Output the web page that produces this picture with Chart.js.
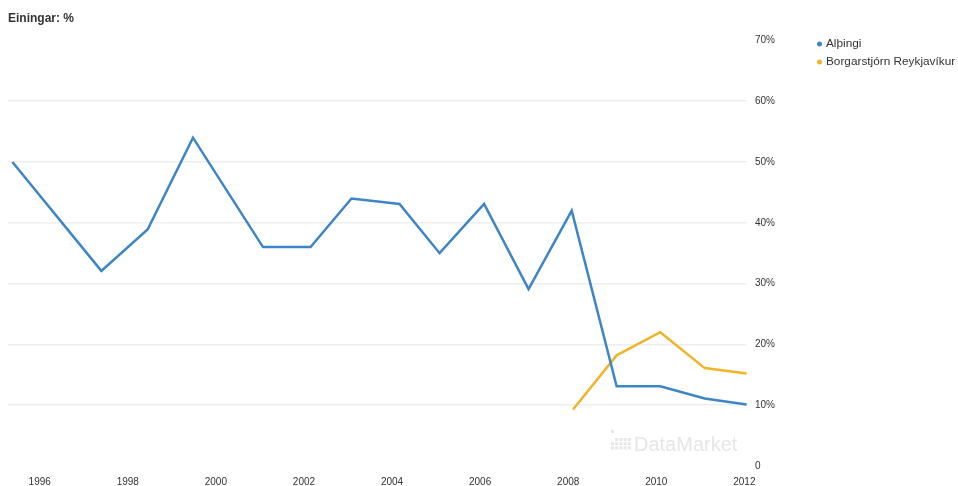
<!DOCTYPE html>
<html>
<head>
<meta charset="utf-8">
<script src="https://cdn.jsdelivr.net/npm/chart.js@4.4.1/dist/chart.umd.min.js"></script>
<style>
    html, body { margin: 0; padding: 0; background: #fff; }
    #wrap { width: 958px; height: 486px; }
</style>
</head>
<body>
<div id="wrap"><canvas id="chart" width="958" height="486"></canvas></div>
<script>
// values (x = decimal year)
const althingiYears = [1995.38, 1997.40, 1998.45, 1999.48, 2001.07, 2002.15, 2003.08, 2004.17, 2005.08, 2006.09, 2007.10, 2008.08, 2009.10, 2010.09, 2011.10, 2012.05];
const althingiValues = [50, 32.1, 38.9, 54, 36, 36, 44, 43.1, 35, 43.1, 29.1, 42, 13.1, 13.1, 11.1, 10.1];
const borgarYears = [2008.11, 2009.10, 2010.09, 2011.10, 2012.05];
const borgarValues = [9.3, 18.2, 22, 16.1, 15.2];
const xTicks = [1996, 1998, 2000, 2002, 2004, 2006, 2008, 2010, 2012];
const yTicks = [0, 10, 20, 30, 40, 50, 60, 70];
const seriesNames = ['Alþingi', 'Borgarstjórn Reykjavíkur'];
const seriesColors = ['#3d85c6', '#f0b429'];

const fontFamily = "'Liberation Sans', Arial, sans-serif";

function toPoints(xs, ys) {
    return xs.map((x, i) => ({ x: x, y: ys[i] }));
}

// legend drawn on the right side, next to the value axis
const sideLegend = {
    id: 'sideLegend',
    afterDraw(chart) {
        const ctx = chart.ctx;
        ctx.save();
        ctx.font = '11.8px ' + fontFamily;
        ctx.textBaseline = 'middle';
        chart.data.datasets.forEach((ds, i) => {
            const y = 44 + i * 18;
            ctx.fillStyle = ds.borderColor;
            ctx.beginPath();
            ctx.arc(819.5, y, 2.5, 0, Math.PI * 2);
            ctx.fill();
            ctx.fillStyle = '#333';
            ctx.fillText(ds.label, 826, y);
        });
        ctx.restore();
    }
};

// faint DataMarket watermark
const watermark = {
    id: 'watermark',
    beforeDatasetsDraw(chart) {
        const ctx = chart.ctx;
        ctx.save();
        ctx.fillStyle = '#e6e6e6';
        // little dot icon
        ctx.fillRect(611, 430, 3, 3);
        for (let c = 0; c < 5; c++) {
            for (let r = 0; r < 3; r++) {
                if (c === 0 && r === 0) continue;
                ctx.fillRect(611 + c * 4.2, 438 + r * 4.2, 3, 3);
            }
        }
        ctx.font = '20px ' + fontFamily;
        ctx.textBaseline = 'alphabetic';
        ctx.fillText('DataMarket', 634, 451);
        ctx.restore();
    }
};

new Chart(document.getElementById('chart'), {
    type: 'line',
    data: {
        datasets: [{
            label: seriesNames[0],
            data: toPoints(althingiYears, althingiValues),
            borderColor: seriesColors[0],
            backgroundColor: seriesColors[0],
            borderWidth: 2.5,
            pointRadius: 0,
            tension: 0,
            fill: false
        }, {
            label: seriesNames[1],
            data: toPoints(borgarYears, borgarValues),
            borderColor: seriesColors[1],
            backgroundColor: seriesColors[1],
            borderWidth: 2.5,
            pointRadius: 0,
            tension: 0,
            fill: false
        }]
    },
    options: {
        responsive: false,
        animation: false,
        layout: {
            padding: { left: 8, right: 151, top: 0, bottom: 0 }
        },
        plugins: {
            legend: { display: false },
            tooltip: { enabled: false },
            title: {
                display: true,
                text: 'Einingar: %',
                align: 'start',
                color: '#333',
                font: { family: fontFamily, size: 12, weight: 'bold' },
                padding: { top: 11, bottom: 15 }
            }
        },
        scales: {
            x: {
                type: 'linear',
                min: 1995.28,
                max: 2012.06,
                afterBuildTicks: (scale) => {
                    scale.ticks = xTicks.map(v => ({ value: v }));
                },
                afterFit: (scale) => { scale.height = 20; },
                grid: { display: false, drawTicks: false },
                border: { display: false },
                ticks: {
                    padding: 10,
                    color: '#333',
                    maxRotation: 0,
                    font: { family: fontFamily, size: 10 },
                    callback: (v) => String(v)
                }
            },
            y: {
                position: 'right',
                min: 0,
                max: 70,
                afterBuildTicks: (scale) => {
                    scale.ticks = yTicks.map(v => ({ value: v }));
                },
                afterFit: (scale) => { scale.width = 60; },
                grid: {
                    drawTicks: false,
                    lineWidth: 1.5,
                    color: (c) => (c.tick && (c.tick.value === 0 || c.tick.value === 70)) ? 'rgba(0,0,0,0)' : '#eeeeee'
                },
                border: { display: false },
                ticks: {
                    padding: 8,
                    color: '#333',
                    font: { family: fontFamily, size: 10 },
                    callback: (v) => v === 0 ? '0' : v + '%'
                }
            }
        }
    },
    plugins: [watermark, sideLegend]
});
</script>
</body>
</html>
